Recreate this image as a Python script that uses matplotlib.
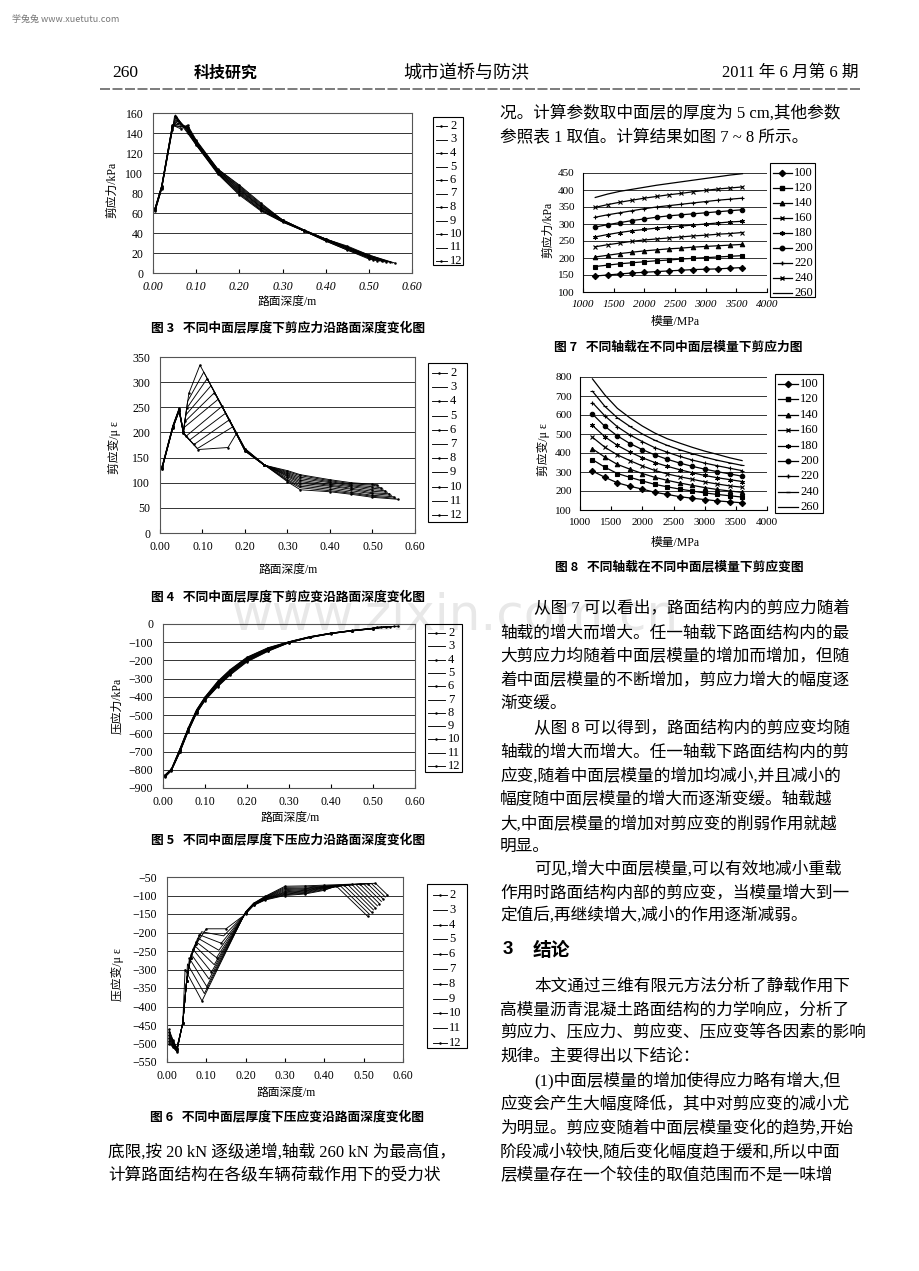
import numpy as np
import matplotlib.pyplot as plt
from matplotlib.lines import Line2D
from matplotlib.patches import Rectangle
from matplotlib.ticker import FormatStrFormatter

W, H = 920, 1271

# ---- data -------------------------------------------------------------------
thick_cm = [2, 3, 4, 5, 6, 7, 8, 9, 10, 11, 12]

# fig 3: shear stress (kPa) vs depth (m), one curve per middle layer thickness
f3_x = [
    [0.005, 0.02, 0.045, 0.050, 0.08, 0.10, 0.15, 0.20, 0.25, 0.30, 0.35, 0.40, 0.45, 0.50, 0.510],
    [0.005, 0.02, 0.045, 0.052, 0.08, 0.10, 0.15, 0.20, 0.25, 0.30, 0.35, 0.40, 0.45, 0.50, 0.515],
    [0.005, 0.02, 0.045, 0.053, 0.08, 0.10, 0.15, 0.20, 0.25, 0.30, 0.35, 0.40, 0.45, 0.50, 0.520],
    [0.005, 0.02, 0.045, 0.055, 0.08, 0.10, 0.15, 0.20, 0.25, 0.30, 0.35, 0.40, 0.45, 0.50, 0.525],
    [0.005, 0.02, 0.045, 0.056, 0.08, 0.10, 0.15, 0.20, 0.25, 0.30, 0.35, 0.40, 0.45, 0.50, 0.530],
    [0.005, 0.02, 0.045, 0.058, 0.08, 0.10, 0.15, 0.20, 0.25, 0.30, 0.35, 0.40, 0.45, 0.50, 0.535],
    [0.005, 0.02, 0.045, 0.059, 0.08, 0.10, 0.15, 0.20, 0.25, 0.30, 0.35, 0.40, 0.45, 0.50, 0.540],
    [0.005, 0.02, 0.045, 0.061, 0.08, 0.10, 0.15, 0.20, 0.25, 0.30, 0.35, 0.40, 0.45, 0.50, 0.545],
    [0.005, 0.02, 0.045, 0.062, 0.08, 0.10, 0.15, 0.20, 0.25, 0.30, 0.35, 0.40, 0.45, 0.50, 0.550],
    [0.005, 0.02, 0.045, 0.064, 0.08, 0.10, 0.15, 0.20, 0.25, 0.30, 0.35, 0.40, 0.45, 0.50, 0.555],
    [0.005, 0.02, 0.045, 0.065, 0.08, 0.10, 0.15, 0.20, 0.25, 0.30, 0.35, 0.40, 0.45, 0.50, 0.560],
]
f3_y = [
    [62, 84, 143, 157, 140, 128, 99, 78, 62, 51, 42, 32, 23, 14, 13],
    [62, 84, 144, 158, 141, 128, 100, 79, 63, 51, 42, 32, 23, 15, 13],
    [63, 85, 144, 156, 142, 129, 100, 80, 63, 52, 42, 33, 24, 15, 12],
    [63, 85, 145, 155, 143, 129, 101, 81, 64, 52, 42, 33, 24, 16, 12],
    [63, 85, 145, 153, 144, 130, 101, 82, 65, 52, 42, 33, 25, 16, 12],
    [64, 86, 146, 152, 144, 130, 102, 83, 66, 52, 42, 33, 25, 16, 11],
    [64, 86, 146, 150, 145, 131, 102, 84, 66, 53, 42, 34, 25, 17, 11],
    [64, 86, 147, 149, 146, 131, 103, 85, 67, 53, 42, 34, 26, 17, 11],
    [65, 87, 147, 147, 146, 132, 103, 86, 68, 53, 43, 34, 26, 17, 11],
    [65, 87, 148, 146, 147, 132, 104, 87, 69, 53, 43, 34, 26, 18, 10],
    [65, 87, 148, 144, 148, 133, 104, 88, 70, 53, 43, 34, 27, 18, 10],
]

# fig 4: shear strain (micro strain) vs depth
f4_x = [
    [0.005, 0.03, 0.045, 0.055, 0.090, 0.160, 0.180, 0.20, 0.245, 0.30, 0.33, 0.40, 0.45, 0.50, 0.510],
    [0.005, 0.03, 0.045, 0.055, 0.088, 0.171, 0.20, 0.245, 0.30, 0.33, 0.40, 0.45, 0.50, 0.515],
    [0.005, 0.03, 0.045, 0.055, 0.080, 0.163, 0.20, 0.245, 0.30, 0.33, 0.40, 0.45, 0.50, 0.520],
    [0.005, 0.03, 0.045, 0.055, 0.070, 0.154, 0.20, 0.245, 0.30, 0.33, 0.40, 0.45, 0.50, 0.525],
    [0.005, 0.03, 0.045, 0.055, 0.062, 0.146, 0.20, 0.245, 0.30, 0.33, 0.40, 0.45, 0.50, 0.530],
    [0.005, 0.03, 0.045, 0.055, 0.057, 0.137, 0.20, 0.245, 0.30, 0.33, 0.40, 0.45, 0.50, 0.535],
    [0.005, 0.03, 0.045, 0.055, 0.059, 0.128, 0.20, 0.245, 0.30, 0.33, 0.40, 0.45, 0.50, 0.540],
    [0.005, 0.03, 0.045, 0.055, 0.061, 0.120, 0.20, 0.245, 0.30, 0.33, 0.40, 0.45, 0.50, 0.545],
    [0.005, 0.03, 0.045, 0.055, 0.063, 0.111, 0.20, 0.245, 0.30, 0.33, 0.40, 0.45, 0.50, 0.550],
    [0.005, 0.03, 0.045, 0.055, 0.065, 0.103, 0.20, 0.245, 0.30, 0.33, 0.40, 0.45, 0.50, 0.555],
    [0.005, 0.03, 0.045, 0.055, 0.068, 0.094, 0.20, 0.245, 0.30, 0.33, 0.40, 0.45, 0.50, 0.560],
]
f4_y = [
    [128, 208, 242, 198, 166, 170, 198, 163, 135, 124, 116, 106, 100, 97, 96],
    [128, 208, 243, 198, 168, 211, 163, 135, 122, 114, 104, 98, 95, 93],
    [128, 209, 243, 199, 176, 225, 164, 135, 120, 111, 102, 96, 92, 90],
    [129, 209, 244, 199, 185, 238, 164, 135, 118, 108, 100, 94, 89, 87],
    [129, 210, 244, 200, 193, 252, 165, 135, 116, 105, 97, 92, 86, 84],
    [130, 210, 245, 200, 210, 266, 165, 136, 114, 102, 95, 89, 83, 81],
    [130, 211, 245, 200, 222, 279, 166, 136, 112, 99, 93, 87, 80, 78],
    [131, 211, 246, 201, 235, 293, 166, 136, 109, 96, 90, 84, 78, 75],
    [131, 212, 246, 201, 248, 307, 167, 136, 106, 93, 87, 81, 75, 72],
    [132, 212, 247, 202, 262, 320, 167, 136, 104, 90, 84, 79, 73, 69],
    [133, 213, 248, 202, 278, 334, 168, 136, 102, 86, 82, 77, 71, 67],
]

# fig 5: compressive stress (kPa) vs depth
f5_x = [
    [0.005, 0.02, 0.04, 0.06, 0.08, 0.10, 0.13, 0.16, 0.20, 0.25, 0.30, 0.35, 0.40, 0.45, 0.50, 0.510],
    [0.005, 0.02, 0.04, 0.06, 0.08, 0.10, 0.13, 0.16, 0.20, 0.25, 0.30, 0.35, 0.40, 0.45, 0.50, 0.515],
    [0.005, 0.02, 0.04, 0.06, 0.08, 0.10, 0.13, 0.16, 0.20, 0.25, 0.30, 0.35, 0.40, 0.45, 0.50, 0.520],
    [0.005, 0.02, 0.04, 0.06, 0.08, 0.10, 0.13, 0.16, 0.20, 0.25, 0.30, 0.35, 0.40, 0.45, 0.50, 0.525],
    [0.005, 0.02, 0.04, 0.06, 0.08, 0.10, 0.13, 0.16, 0.20, 0.25, 0.30, 0.35, 0.40, 0.45, 0.50, 0.530],
    [0.005, 0.02, 0.04, 0.06, 0.08, 0.10, 0.13, 0.16, 0.20, 0.25, 0.30, 0.35, 0.40, 0.45, 0.50, 0.535],
    [0.005, 0.02, 0.04, 0.06, 0.08, 0.10, 0.13, 0.16, 0.20, 0.25, 0.30, 0.35, 0.40, 0.45, 0.50, 0.540],
    [0.005, 0.02, 0.04, 0.06, 0.08, 0.10, 0.13, 0.16, 0.20, 0.25, 0.30, 0.35, 0.40, 0.45, 0.50, 0.545],
    [0.005, 0.02, 0.04, 0.06, 0.08, 0.10, 0.13, 0.16, 0.20, 0.25, 0.30, 0.35, 0.40, 0.45, 0.50, 0.550],
    [0.005, 0.02, 0.04, 0.06, 0.08, 0.10, 0.13, 0.16, 0.20, 0.25, 0.30, 0.35, 0.40, 0.45, 0.50, 0.555],
    [0.005, 0.02, 0.04, 0.06, 0.08, 0.10, 0.13, 0.16, 0.20, 0.25, 0.30, 0.35, 0.40, 0.45, 0.50, 0.560],
]
f5_y = [
    [-840, -805, -705, -590, -490, -420, -345, -280, -208, -150, -103, -74, -53, -38, -26, -16],
    [-838, -804, -704, -588, -488, -418, -342, -277, -205, -148, -102, -74, -53, -38, -26, -16],
    [-836, -803, -702, -586, -486, -416, -339, -274, -202, -146, -102, -73, -52, -38, -26, -15],
    [-835, -802, -700, -584, -484, -414, -336, -271, -200, -144, -101, -73, -52, -37, -25, -15],
    [-834, -801, -698, -582, -482, -412, -333, -268, -197, -142, -101, -72, -52, -37, -25, -15],
    [-833, -800, -696, -580, -480, -410, -330, -265, -195, -140, -100, -72, -51, -37, -25, -14],
    [-832, -799, -694, -578, -478, -408, -327, -262, -192, -138, -99, -71, -51, -36, -24, -14],
    [-831, -798, -692, -576, -476, -406, -324, -259, -190, -136, -99, -71, -51, -36, -24, -14],
    [-830, -797, -690, -574, -474, -404, -321, -256, -187, -134, -98, -70, -50, -36, -24, -13],
    [-829, -796, -688, -572, -472, -402, -318, -253, -184, -132, -98, -70, -50, -35, -23, -13],
    [-828, -795, -686, -570, -470, -400, -315, -250, -182, -130, -97, -69, -50, -35, -23, -12],
]

# fig 6: compressive strain (micro strain) vs depth
f6_x = [
    [0.005, 0.015, 0.025, 0.04, 0.05, 0.06, 0.075, 0.100, 0.150, 0.20, 0.22, 0.25, 0.30, 0.35, 0.40, 0.43, 0.510],
    [0.005, 0.015, 0.025, 0.04, 0.05, 0.06, 0.075, 0.088, 0.144, 0.20, 0.22, 0.25, 0.30, 0.35, 0.40, 0.44, 0.515],
    [0.005, 0.015, 0.025, 0.04, 0.05, 0.06, 0.075, 0.082, 0.138, 0.20, 0.22, 0.25, 0.30, 0.35, 0.40, 0.45, 0.520],
    [0.005, 0.015, 0.025, 0.04, 0.05, 0.06, 0.078, 0.132, 0.20, 0.22, 0.25, 0.30, 0.35, 0.40, 0.46, 0.525],
    [0.005, 0.015, 0.025, 0.04, 0.05, 0.06, 0.074, 0.126, 0.20, 0.22, 0.25, 0.30, 0.35, 0.40, 0.47, 0.530],
    [0.005, 0.015, 0.025, 0.04, 0.05, 0.06, 0.070, 0.120, 0.20, 0.22, 0.25, 0.30, 0.35, 0.40, 0.48, 0.535],
    [0.005, 0.015, 0.025, 0.04, 0.05, 0.06, 0.066, 0.113, 0.20, 0.22, 0.25, 0.30, 0.35, 0.40, 0.49, 0.540],
    [0.005, 0.015, 0.025, 0.04, 0.05, 0.061, 0.107, 0.20, 0.22, 0.25, 0.30, 0.35, 0.40, 0.50, 0.545],
    [0.005, 0.015, 0.025, 0.04, 0.05, 0.057, 0.101, 0.20, 0.22, 0.25, 0.30, 0.35, 0.40, 0.51, 0.550],
    [0.005, 0.015, 0.025, 0.04, 0.05, 0.052, 0.095, 0.20, 0.22, 0.25, 0.30, 0.35, 0.40, 0.52, 0.555],
    [0.005, 0.015, 0.025, 0.04, 0.046, 0.089, 0.20, 0.22, 0.25, 0.30, 0.35, 0.40, 0.53, 0.560],
]
f6_y = [
    [-462, -490, -512, -445, -330, -268, -230, -190, -190, -150, -127, -112, -100, -96, -86, -74, -156],
    [-466, -492, -513, -445, -330, -268, -230, -198, -209, -149, -126, -111, -98, -94, -84, -73, -151],
    [-470, -494, -514, -445, -330, -268, -230, -206, -229, -148, -125, -110, -96, -92, -82, -72, -145],
    [-474, -496, -515, -445, -330, -268, -215, -248, -148, -125, -109, -94, -90, -80, -71, -139],
    [-478, -498, -516, -445, -330, -268, -225, -268, -147, -124, -108, -92, -88, -79, -70, -134],
    [-482, -500, -517, -445, -330, -268, -235, -287, -147, -124, -107, -90, -86, -78, -70, -128],
    [-486, -502, -518, -445, -330, -268, -245, -307, -146, -123, -106, -87, -84, -77, -69, -122],
    [-490, -504, -519, -445, -330, -258, -326, -146, -123, -105, -84, -82, -76, -69, -116],
    [-494, -506, -520, -445, -330, -270, -346, -145, -122, -104, -81, -80, -75, -68, -110],
    [-497, -508, -521, -445, -330, -285, -365, -145, -122, -103, -78, -77, -74, -68, -104],
    [-500, -510, -522, -445, -300, -385, -144, -121, -102, -75, -74, -72, -67, -98],
]

# fig 7 / fig 8: axle load series vs middle layer modulus
loads_kN = [100, 120, 140, 160, 180, 200, 220, 240, 260]
modulus = [1200, 1400, 1600, 1800, 2000, 2200, 2400, 2600, 2800, 3000, 3200, 3400, 3600]
f7_y = [
    [147, 150, 153, 156, 158, 160, 162, 164, 166, 167, 168, 170, 172],
    [175, 179, 183, 186, 189, 192, 194, 197, 199, 201, 203, 205, 207],
    [203, 208, 213, 217, 221, 224, 227, 229, 232, 234, 236, 238, 240],
    [233, 239, 244, 249, 253, 256, 259, 262, 265, 267, 270, 272, 275],
    [262, 269, 275, 280, 284, 288, 291, 294, 297, 300, 303, 306, 308],
    [291, 298, 304, 310, 315, 320, 324, 327, 330, 333, 336, 339, 342],
    [320, 327, 333, 339, 345, 350, 354, 358, 362, 366, 370, 373, 376],
    [349, 357, 364, 370, 376, 381, 386, 390, 395, 399, 403, 406, 409],
    [378, 388, 396, 402, 408, 414, 419, 424, 429, 434, 439, 444, 448],
]
f8_y = [
    [305, 272, 243, 225, 210, 193, 182, 170, 162, 155, 148, 143, 138],
    [365, 325, 292, 272, 253, 235, 222, 210, 200, 190, 182, 175, 168],
    [422, 378, 340, 315, 292, 272, 256, 242, 230, 218, 208, 200, 193],
    [483, 430, 390, 360, 332, 308, 290, 275, 262, 248, 237, 227, 220],
    [545, 485, 440, 405, 375, 350, 330, 312, 296, 282, 270, 260, 250],
    [605, 540, 490, 450, 418, 390, 367, 347, 330, 315, 302, 290, 278],
    [665, 595, 538, 495, 460, 428, 404, 382, 363, 347, 333, 320, 307],
    [725, 645, 585, 540, 500, 467, 440, 417, 397, 378, 362, 348, 335],
    [790, 705, 635, 585, 542, 505, 475, 452, 430, 410, 393, 375, 360],
]

# ---- page -------------------------------------------------------------------
plt.rcParams['font.family'] = ['Liberation Serif', 'Noto Sans CJK SC']
plt.rcParams['axes.linewidth'] = 0.8
CJK = ['Noto Sans CJK SC', 'Liberation Serif']
MIX = ['Liberation Serif', 'Noto Sans CJK SC']

fig = plt.figure(figsize=(9.2, 12.71), dpi=100)
fig.patch.set_facecolor('white')


def px_axes(x0, y0, x1, y1):
    return fig.add_axes([x0 / W, 1 - y1 / H, (x1 - x0) / W, (y1 - y0) / H])


def ptext(x, y, s, **kw):
    kw.setdefault('va', 'center')
    return fig.text(x / W, 1 - y / H, s, **kw)


def legend_box(lines, labels, box, y_first, step, xl, xt, fs=9):
    x0, y0, x1, y1 = box
    fig.add_artist(Rectangle((x0 / W, 1 - y1 / H), (x1 - x0) / W, (y1 - y0) / H,
                             transform=fig.transFigure, fill=False,
                             edgecolor='black', lw=0.8))
    for i, (ln, lab) in enumerate(zip(lines, labels)):
        yy = 1 - (y_first + i * step) / H
        fig.add_artist(Line2D([xl[0] / W, (xl[0] + xl[1]) / 2 / W, xl[1] / W], [yy, yy, yy],
                              transform=fig.transFigure, color='black',
                              lw=ln.get_linewidth(), marker=ln.get_marker(),
                              ms=ln.get_markersize(), markevery=[1]))
        fig.text(xt / W, yy, str(lab), va='center', ha='left', fontsize=fs)


def depth_chart(box, xs, ys, ylim, yticks, italic_x=False):
    ax = px_axes(*box)
    ax.set_facecolor('none')
    lines = []
    for k in range(len(xs)):
        mk = '.' if k % 2 == 0 else ''
        ln, = ax.plot(xs[k], ys[k], color='black', lw=0.65, marker=mk, ms=1.6)
        lines.append(ln)
    ax.set_xlim(0, 0.6)
    ax.set_ylim(*ylim)
    ax.set_xticks([0, 0.1, 0.2, 0.3, 0.4, 0.5, 0.6])
    ax.set_yticks(yticks)
    ax.xaxis.set_major_formatter(FormatStrFormatter('%.2f'))
    ax.grid(axis='y', color='#333333', lw=0.7)
    ax.set_axisbelow(True)
    for s in ax.spines.values():
        s.set_color('#555555')
        s.set_linewidth(0.8)
    ax.tick_params(axis='x', direction='in', length=3, labelsize=8.5, pad=6)
    ax.tick_params(axis='y', length=0, labelsize=8.5, pad=7)
    if italic_x:
        for t in ax.get_xticklabels():
            t.set_style('italic')
    return ax, lines


def load_chart(box, ys, ylim, yticks, markers, italic_x=False):
    ax = px_axes(*box)
    ax.set_facecolor('none')
    lines = []
    for k in range(len(ys)):
        mk = markers[k]
        ln, = ax.plot(modulus, ys[k], color='black', lw=0.9,
                      marker=mk if mk else '', ms=3.2, mew=0.8)
        lines.append(ln)
    ax.set_xlim(1000, 4000)
    ax.set_ylim(*ylim)
    ax.set_xticks([1000, 1500, 2000, 2500, 3000, 3500, 4000])
    ax.set_yticks(yticks)
    ax.grid(axis='y', color='#333333', lw=0.7)
    ax.set_axisbelow(True)
    ax.spines['top'].set_visible(False)
    ax.spines['right'].set_visible(False)
    ax.tick_params(axis='x', direction='in', length=3, labelsize=8, pad=6)
    ax.tick_params(axis='y', length=0, labelsize=8, pad=6)
    if italic_x:
        for t in ax.get_xticklabels():
            t.set_style('italic')
    return ax, lines


# header
ptext(12, 19, '学兔兔 www.xuetutu.com', fontsize=6.5, color='#777777', family=CJK)
ptext(112, 73, '260', fontsize=12.5)
ptext(194, 73, '科技研究', fontsize=11.5, weight='bold', family=CJK)
ptext(466, 73, '城市道桥与防洪', fontsize=13, ha='center', family=CJK)
ptext(859, 73, '2011 年 6 月第 6 期', fontsize=12, ha='right')
fig.add_artist(Line2D([100 / W, 860 / W], [1 - 89 / H, 1 - 89 / H], transform=fig.transFigure,
                      color='#666666', lw=1.2, ls=(0, (6, 1.5))))

# fig 3
ax3, l3 = depth_chart((153, 113, 412, 273), f3_x, f3_y, (0, 160), range(0, 161, 20), italic_x=True)
legend_box(l3, thick_cm, (433, 117, 463, 265), 126, 13.5, (436, 447), 450)
ptext(112, 190, '剪应力/kPa', fontsize=8.5, rotation=90, ha='center')
ptext(287, 302, '路面深度/m', fontsize=8.5, ha='center')
ptext(288, 328, '图 3   不同中面层厚度下剪应力沿路面深度变化图', fontsize=9.2, ha='center',
      weight='bold', family=CJK)

# fig 4
ax4, l4 = depth_chart((160, 357, 415, 533), f4_x, f4_y, (0, 350), range(0, 351, 50))
legend_box(l4, thick_cm, (428, 363, 467, 522), 373, 14.2, (432, 447), 450)
ptext(114, 448, '剪应变/μ ε', fontsize=8.5, rotation=90, ha='center')
ptext(288, 570, '路面深度/m', fontsize=8.5, ha='center')
ptext(288, 597, '图 4   不同中面层厚度下剪应变沿路面深度变化图', fontsize=9.2, ha='center',
      weight='bold', family=CJK)

# fig 5
ax5, l5 = depth_chart((163, 624, 415, 788), f5_x, f5_y, (-900, 0), range(-900, 1, 100))
legend_box(l5, thick_cm, (425, 624, 462, 772), 633, 13.3, (428, 445), 448)
ptext(117, 706, '压应力/kPa', fontsize=8.5, rotation=90, ha='center')
ptext(290, 818, '路面深度/m', fontsize=8.5, ha='center')
ptext(288, 840, '图 5   不同中面层厚度下压应力沿路面深度变化图', fontsize=9.2, ha='center',
      weight='bold', family=CJK)

# fig 6
ax6, l6 = depth_chart((167, 877, 403, 1062), f6_x, f6_y, (-550, -50), range(-550, -49, 50))
legend_box(l6, thick_cm, (427, 884, 467, 1048), 895, 14.8, (433, 447), 449)
ptext(117, 975, '压应变/μ ε', fontsize=8.5, rotation=90, ha='center')
ptext(286, 1093, '路面深度/m', fontsize=8.5, ha='center')
ptext(287, 1117, '图 6   不同中面层厚度下压应变沿路面深度变化图', fontsize=9.2, ha='center',
      weight='bold', family=CJK)

# fig 7
mk7 = ['D', 's', '^', 'x', (6, 2, 0), 'o', '+', 'x', None]
ax7, l7 = load_chart((583, 173, 767, 292), f7_y, (100, 450), range(100, 451, 50), mk7, italic_x=True)
legend_box(l7, loads_kN, (770, 163, 815, 297), 173, 15.0, (773, 792), 794, fs=9)
ptext(548, 230, '剪应力/kPa', fontsize=8.5, rotation=90, ha='center')
ptext(675, 322, '模量/MPa', fontsize=8.5, ha='center')
ptext(678, 347, '图 7   不同轴载在不同中面层模量下剪应力图', fontsize=9.2, ha='center',
      weight='bold', family=CJK)

# fig 8
mk8 = ['D', 's', '^', 'x', (6, 2, 0), 'o', '+', '_', None]
ax8, l8 = load_chart((580, 377, 767, 510), f8_y, (100, 800), range(100, 801, 100), mk8)
legend_box(l8, loads_kN, (775, 374, 823, 513), 384, 15.4, (778, 798), 800, fs=9)
ptext(543, 450, '剪应变/μ ε', fontsize=8.5, rotation=90, ha='center')
ptext(675, 543, '模量/MPa', fontsize=8.5, ha='center')
ptext(679, 567, '图 8   不同轴载在不同中面层模量下剪应变图', fontsize=9.2, ha='center',
      weight='bold', family=CJK)

# body text
BODY = dict(fontsize=12, family=MIX, ha='left')
ptext(500, 113, '况。计算参数取中面层的厚度为 5 cm,其他参数', **BODY)
ptext(500, 138, '参照表 1 取值。计算结果如图 7 ~ 8 所示。', **BODY)

right_lines = [
    (609.5, True, '从图 7 可以看出，路面结构内的剪应力随着'),
    (633.4, False, '轴载的增大而增大。任一轴载下路面结构内的最'),
    (657.2, False, '大剪应力均随着中面层模量的增加而增加，但随'),
    (681.0, False, '着中面层模量的不断增加，剪应力增大的幅度逐'),
    (705.0, False, '渐变缓。'),
    (728.8, True, '从图 8 可以得到，路面结构内的剪应变均随'),
    (752.6, False, '轴载的增大而增大。任一轴载下路面结构内的剪'),
    (776.5, False, '应变,随着中面层模量的增加均减小,并且减小的'),
    (800.3, False, '幅度随中面层模量的增大而逐渐变缓。轴载越'),
    (824.2, False, '大,中面层模量的增加对剪应变的削弱作用就越'),
    (846.7, False, '明显。'),
    (869.7, True, '可见,增大中面层模量,可以有效地减小重载'),
    (893.5, False, '作用时路面结构内部的剪应变，当模量增大到一'),
    (915.2, False, '定值后,再继续增大,减小的作用逐渐减弱。'),
    (986.8, True, '本文通过三维有限元方法分析了静载作用下'),
    (1009.8, False, '高模量沥青混凝土路面结构的力学响应，分析了'),
    (1033.2, False, '剪应力、压应力、剪应变、压应变等各因素的影响'),
    (1057.5, False, '规律。主要得出以下结论：'),
    (1080.9, True, '(1)中面层模量的增加使得应力略有增大,但'),
    (1105.2, False, '应变会产生大幅度降低，其中对剪应变的减小尤'),
    (1128.6, False, '为明显。剪应变随着中面层模量变化的趋势,开始'),
    (1152.4, False, '阶段减小较快,随后变化幅度趋于缓和,所以中面'),
    (1175.4, False, '层模量存在一个较佳的取值范围而不是一味增'),
]
for y, indent, s in right_lines:
    ptext(534 if indent else 500, y, s, **BODY)

ptext(503, 950, '3', fontsize=13.5, weight='bold', family=['Liberation Sans'])
ptext(533, 950, '结论', fontsize=13.5, weight='bold', family=CJK)

ptext(108, 1152, '底限,按 20 kN 逐级递增,轴载 260 kN 为最高值，', **BODY)
ptext(108, 1175, '计算路面结构在各级车辆荷载作用下的受力状', **BODY)

# faint site watermark over the page
ptext(455, 616, 'www.zixin.com.cn', fontsize=36, ha='center', family=['DejaVu Sans'],
      color='black', alpha=0.09, zorder=10)

fig.savefig('out.png', dpi=100, facecolor='white')
